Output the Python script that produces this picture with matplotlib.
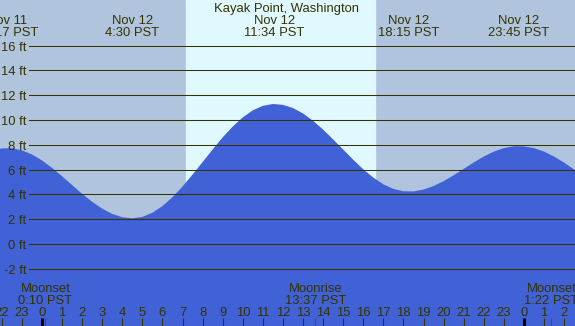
import numpy as np
from matplotlib import pyplot as plt

# tide heights (ft), read every half hour; hours counted from midnight Nov 12 (PST)
hours = [-2.5, -2.0, -1.5, -1.0, -0.5, 0.0, 0.5, 1.0, 1.5, 2.0, 2.5, 3.0, 3.5, 4.0, 4.5,
         5.0, 5.5, 6.0, 6.5, 7.0, 7.5, 8.0, 8.5, 9.0, 9.5, 10.0, 10.5, 11.0, 11.5,
         12.0, 12.5, 13.0, 13.5, 14.0, 14.5, 15.0, 15.5, 16.0, 16.5, 17.0, 17.5, 18.0,
         18.5, 19.0, 19.5, 20.0, 20.5, 21.0, 21.5, 22.0, 22.5, 23.0, 23.5,
         24.0, 24.5, 25.0, 25.5, 26.0, 26.5, 27.0]
heights = [7.53, 7.72, 7.73, 7.56, 7.23, 6.75, 6.15, 5.47, 4.76, 4.05, 3.41, 2.86, 2.43, 2.17, 2.08,
           2.19, 2.53, 3.07, 3.78, 4.65, 5.61, 6.62, 7.63, 8.61, 9.48, 10.22, 10.79, 11.15, 11.30,
           11.23, 10.97, 10.53, 9.94, 9.23, 8.44, 7.62, 6.80, 6.03, 5.36, 4.82, 4.45, 4.26,
           4.25, 4.40, 4.68, 5.08, 5.55, 6.07, 6.59, 7.06, 7.46, 7.74, 7.89,
           7.88, 7.74, 7.46, 7.06, 6.57, 6.01, 5.43]

# high / low tide labels along the top
extreme_hours = [-1.72, 4.5, 11.57, 18.25, 23.75]
extreme_dates = ["Nov 11", "Nov 12", "Nov 12", "Nov 12", "Nov 12"]
extreme_times = ["22:17 PST", "4:30 PST", "11:34 PST", "18:15 PST", "23:45 PST"]

# moon events
moon_hours = [10 / 60, 13 + 37 / 60, 24 + 82 / 60]
moon_names = ["Moonset", "Moonrise", "Moonset"]
moon_times = ["0:10 PST", "13:37 PST", "1:22 PST"]

sunrise = 7 + 10 / 60
sunset = 16 + 35 / 60

levels = list(range(-2, 17, 2))
hour_ticks = list(range(-2, 27))

title = "Kayak Point, Washington"

night_col = "#b0c4de"
day_col = "#e0f8ff"
water_col = "#4161d6"
ink = "#333300"

W, H = 575, 326
x0, xmin, xmax = -2.09, -2.09, 26.54
ybot, ytop = -6.605, 19.685

plt.rcParams["font.family"] = ["Liberation Sans", "DejaVu Sans"]
fs = 9.4

fig = plt.figure(figsize=(W / 100, H / 100), dpi=100)
ax = fig.add_axes([0, 0, 1, 1])
ax.set_xlim(xmin, xmax)
ax.set_ylim(ybot, ytop)
ax.axis("off")

# night / day background
ax.axvspan(xmin, xmax, color=night_col, zorder=0)
ax.axvspan(sunrise, sunset, color=day_col, zorder=0)

# water
ax.fill_between(hours, heights, ybot, color=water_col, lw=0, zorder=1)

# height lines and labels
for lv in levels:
    ax.axhline(lv, xmin=29 / W, xmax=1, color=ink, lw=0.75, zorder=2)
    ax.annotate("%d ft" % lv, xy=(26 / W, lv), xycoords=("axes fraction", "data"),
                xytext=(0, -5), textcoords="offset pixels",
                ha="right", va="baseline", fontsize=fs, color=ink)

def frac(ypix):
    # pixel row from the top -> axes fraction
    return 1 - ypix / H

xt = ax.get_xaxis_transform()

# title and tide extremes
ax.text(286.7 / W, frac(12.3), title, transform=ax.transAxes,
        ha="center", va="baseline", fontsize=fs, color=ink)
for h, d, t in zip(extreme_hours, extreme_dates, extreme_times):
    ax.text(h, frac(24), d, transform=xt, ha="center", va="baseline", fontsize=fs, color=ink)
    ax.text(h, frac(36), t, transform=xt, ha="center", va="baseline", fontsize=fs, color=ink)

# moon events
for h, n, t in zip(moon_hours, moon_names, moon_times):
    ax.text(h, frac(292), n, transform=xt, ha="center", va="baseline", fontsize=fs, color=ink)
    ax.text(h, frac(304.3), t, transform=xt, ha="center", va="baseline", fontsize=fs, color=ink)
    ax.vlines(h, 0, 8 / H, transform=xt, color="red", lw=0.75, zorder=4)

# hour ticks along the bottom
for h in hour_ticks:
    ax.text(h, frac(316), str(h % 24), transform=xt, ha="center", va="baseline",
            fontsize=fs, color=ink)
    if h % 24 == 0:
        ax.vlines(h, 0, 8 / H, transform=xt, color="black", lw=2.2, zorder=3)
    else:
        ax.vlines(h, 0, 8 / H, transform=xt, color=ink, lw=0.75, zorder=3)

plt.savefig("out.png", dpi=100)
